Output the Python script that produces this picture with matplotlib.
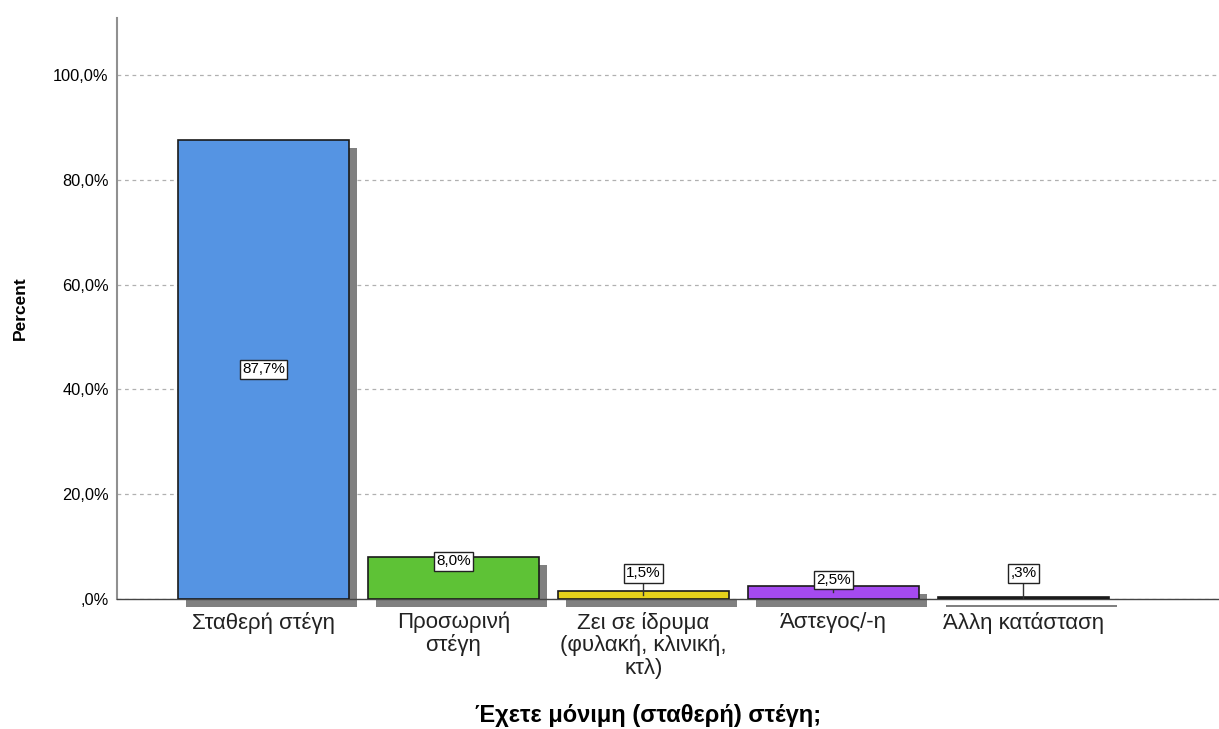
import matplotlib
matplotlib.use("Agg")
import matplotlib.pyplot as plt
from matplotlib.patches import Rectangle

categories = ["Σταθερή στέγη", "Προσωρινή\nστέγη", "Ζει σε ίδρυμα\n(φυλακή, κλινική,\nκτλ)", "Άστεγος/-η", "Άλλη κατάσταση"]
values = [87.7, 8.0, 1.5, 2.5, 0.3]
value_labels = ["87,7%", "8,0%", "1,5%", "2,5%", ",3%"]
colors = ["#5594E3", "#5EC236", "#E6D11B", "#A54AF0", "#222222"]
yticks = [0, 20, 40, 60, 80, 100]
ytick_labels = [",0%", "20,0%", "40,0%", "60,0%", "80,0%", "100,0%"]
# label y positions (in percent units) for the value boxes
label_y = [43.85, 7.2, 4.9, 3.6, 4.9]

plt.rcParams['font.family'] = ['Liberation Sans', 'DejaVu Sans']
fig = plt.figure(figsize=(12.19, 7.29), dpi=100)
ax = fig.add_axes([0.096, 0.1783, 0.904, 0.797])

width = 0.9
ax.set_xlim(-0.771, 5.03)
ax.set_ylim(0, 110.9)

ppx = 190.0  # pixels per x unit (approx)
ppy = 5.24   # pixels per percent
dx = 8 / ppx
dy = 8 / ppy

for i, v in enumerate(values):
    sh = Rectangle((i - width / 2 + dx, -dy), width, v, facecolor="#808080",
                   edgecolor="none", zorder=2, clip_on=False)
    ax.add_patch(sh)
for i, v in enumerate(values):
    ax.bar(i, v, width=width, color=colors[i], edgecolor="#1a1a1a", linewidth=1.2, zorder=3)

for i, (v, lab, ly) in enumerate(zip(values, value_labels, label_y)):
    if ly > v:
        ax.plot([i, i], [v / 2, ly], color="#333333", lw=1, zorder=4)
    ax.text(i, ly, lab, ha="center", va="center", fontsize=11, zorder=5,
            bbox=dict(boxstyle="square,pad=0.15", facecolor="white", edgecolor="#222222", lw=1))

ax.set_yticks(yticks)
ax.set_yticklabels(ytick_labels, fontsize=11.8)
ax.set_xticks(range(len(categories)))
ax.set_xticklabels(categories, fontsize=16, color="#222222", linespacing=1.08)
ax.tick_params(axis="x", length=0, pad=9)
ax.tick_params(axis="y", length=0, pad=6)

ax.yaxis.grid(True, linestyle=(0, (3, 3)), color="#b0b0b0", lw=0.9, zorder=0)
ax.set_axisbelow(True)
for s in ["top", "right"]:
    ax.spines[s].set_visible(False)
ax.spines["left"].set_color("#909090")
ax.spines["left"].set_linewidth(1.5)
ax.spines["bottom"].set_color("#444444")
ax.spines["bottom"].set_linewidth(1.0)
ax.spines["bottom"].set_zorder(2.5)

fig.text(20 / 1219, 0.578, "Percent", rotation=90, ha="center", va="center",
         fontsize=12.5, fontweight="bold")
fig.text(0.532, 0.018, "Έχετε μόνιμη (σταθερή) στέγη;", ha="center", va="center",
         fontsize=17, fontweight="bold")

fig.savefig("out.png", dpi=100)
